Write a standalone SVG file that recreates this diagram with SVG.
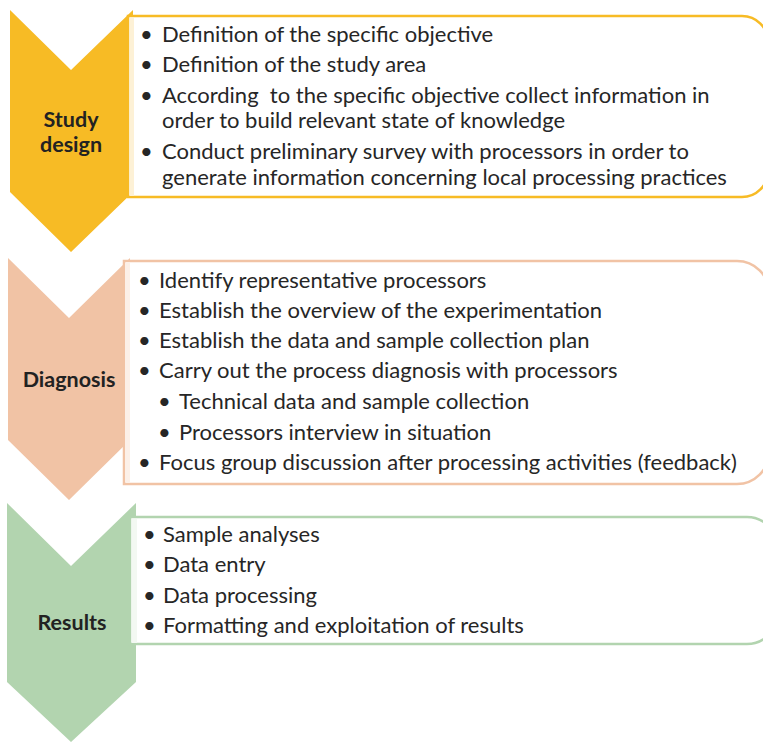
<svg xmlns="http://www.w3.org/2000/svg" width="763" height="743" viewBox="0 0 763 743">
<style>
.txt{font-family:Lato,"Liberation Sans",sans-serif;font-size:22px;fill:#262626}
.lbl{font-family:Lato,"Liberation Sans",sans-serif;font-size:21.5px;font-weight:bold;fill:#222;text-anchor:middle}
.box{fill:#fff;stroke-width:2.5}
</style>
<rect width="763" height="743" fill="#fff"/>
<g id="connectors"></g>
<g id="study-design">
<polygon points="10,10 71,70 133,10 133,192 71,252 10,192" fill="#F7BB25"/>
<path class="box" stroke="#F7BB25" d="M128,16 H742 A26,26 0 0 1 768,42 V171 A26,26 0 0 1 742,197 H128 Z"/>
<rect x="130" y="18" width="4" height="178" fill="#FDF1D6"/>
<text class="lbl" x="71" y="127">Study</text>
<text class="lbl" x="71" y="152">design</text>
<g class="txt">
<text x="140" y="42">•</text><text x="162" y="42">Definition of the specific objective</text>
<text x="140" y="72">•</text><text x="162" y="72">Definition of the study area</text>
<text x="140" y="103">•</text><text x="162" y="103" xml:space="preserve">According  to the specific objective collect information in</text>
<text x="162" y="128">order to build relevant state of knowledge</text>
<text x="140" y="159">•</text><text x="162" y="159">Conduct preliminary survey with processors in order to</text>
<text x="162" y="185">generate information concerning local processing practices</text>
</g>
</g>
<g id="diagnosis">
<polygon points="8,258 69,318 130,258 130,440 69,500 8,440" fill="#F1C3A5"/>
<path class="box" stroke="#F1C3A5" d="M124,261 H737 A32,32 0 0 1 769,293 V452 A32,32 0 0 1 737,484 H124 Z"/>
<rect x="126" y="263" width="4" height="220" fill="#FCF0E8"/>
<text class="lbl" x="69" y="387">Diagnosis</text>
<g class="txt">
<text x="138" y="288">•</text><text x="159" y="288">Identify representative processors</text>
<text x="138" y="318">•</text><text x="159" y="318">Establish the overview of the experimentation</text>
<text x="138" y="348">•</text><text x="159" y="348">Establish the data and sample collection plan</text>
<text x="138" y="378">•</text><text x="159" y="378">Carry out the process diagnosis with processors</text>
<text x="158" y="409">•</text><text x="179" y="409">Technical data and sample collection</text>
<text x="158" y="440">•</text><text x="179" y="440">Processors interview in situation</text>
<text x="138" y="470">•</text><text x="159" y="470">Focus group discussion after processing activities (feedback)</text>
</g>
</g>
<g id="results">
<polygon points="7,503 71,566 136,503 136,682 71,742 7,682" fill="#B2D4AF"/>
<path class="box" stroke="#B2D4AF" d="M130,517 H747 A30,30 0 0 1 777,547 V614 A30,30 0 0 1 747,644 H130 Z"/>
<rect x="132" y="519" width="5" height="124" fill="#F3F8F2"/>
<text class="lbl" x="72" y="630">Results</text>
<g class="txt">
<text x="143" y="542">•</text><text x="163" y="542">Sample analyses</text>
<text x="143" y="572">•</text><text x="163" y="572">Data entry</text>
<text x="143" y="603">•</text><text x="163" y="603">Data processing</text>
<text x="143" y="633">•</text><text x="163" y="633">Formatting and exploitation of results</text>
</g>
</g>
</svg>
